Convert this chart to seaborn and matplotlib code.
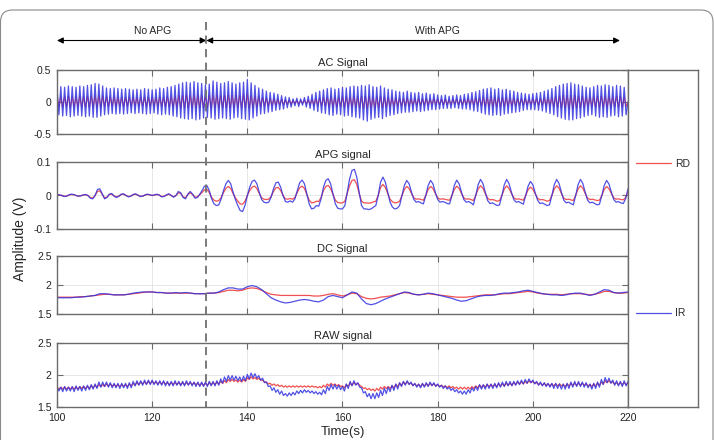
import numpy as np
import matplotlib.pyplot as plt
import matplotlib.transforms as mtransforms
from matplotlib.lines import Line2D
from matplotlib.patches import FancyArrowPatch, FancyBboxPatch
import seaborn as sns

# values
# AC and RAW: one value every half beat (0.4 s), alternating peak / trough
ac_ir = [
    0.22, -0.20, 0.24, -0.22, 0.23, -0.21, 0.25, -0.23, 0.24, -0.22, 0.23, -0.21, 0.25, -0.22, 0.24, -0.23, 0.26, -0.22, 0.27, -0.24,
    0.29, -0.24, 0.28, -0.22, 0.25, -0.20, 0.22, -0.19, 0.21, -0.18, 0.22, -0.19, 0.21, -0.18, 0.20, -0.19, 0.21, -0.18, 0.20, -0.17,
    0.19, -0.18, 0.20, -0.17, 0.19, -0.18, 0.21, -0.19, 0.20, -0.18, 0.19, -0.17, 0.20, -0.19, 0.22, -0.20, 0.21, -0.19, 0.23, -0.20,
    0.24, -0.22, 0.26, -0.23, 0.28, -0.25, 0.30, -0.26, 0.31, -0.27, 0.30, -0.26, 0.32, -0.28, 0.30, -0.27, 0.29, -0.25, 0.27, -0.24,
    0.28, -0.25, 0.33, -0.27, 0.31, -0.26, 0.29, -0.25, 0.30, -0.26, 0.32, -0.27, 0.30, -0.25, 0.28, -0.24, 0.30, -0.26, 0.31, -0.27,
    0.35, -0.28, 0.30, -0.25, 0.26, -0.22, 0.22, -0.19, 0.20, -0.18, 0.17, -0.16, 0.15, -0.15, 0.14, -0.13, 0.12, -0.12, 0.10, -0.11,
    0.08, -0.09, 0.07, -0.08, 0.05, -0.06, 0.06, -0.07, 0.05, -0.05, 0.07, -0.08, 0.09, -0.10, 0.12, -0.13, 0.15, -0.15, 0.17, -0.17,
    0.19, -0.18, 0.21, -0.20, 0.22, -0.21, 0.20, -0.19, 0.21, -0.20, 0.23, -0.22, 0.22, -0.21, 0.24, -0.23, 0.25, -0.24, 0.24, -0.25,
    0.26, -0.28, 0.25, -0.30, 0.27, -0.27, 0.24, -0.25, 0.23, -0.24, 0.25, -0.26, 0.22, -0.23, 0.20, -0.21, 0.19, -0.20, 0.17, -0.18,
    0.16, -0.17, 0.15, -0.16, 0.17, -0.16, 0.15, -0.15, 0.14, -0.14, 0.15, -0.15, 0.13, -0.14, 0.14, -0.13, 0.12, -0.12, 0.13, -0.12,
    0.11, -0.11, 0.10, -0.10, 0.11, -0.10, 0.09, -0.10, 0.10, -0.09, 0.11, -0.10, 0.10, -0.11, 0.12, -0.11, 0.13, -0.12, 0.15, -0.14,
    0.16, -0.15, 0.18, -0.17, 0.20, -0.19, 0.21, -0.20, 0.22, -0.21, 0.20, -0.20, 0.21, -0.21, 0.19, -0.19, 0.20, -0.18, 0.18, -0.17,
    0.17, -0.16, 0.15, -0.15, 0.14, -0.13, 0.13, -0.12, 0.12, -0.12, 0.13, -0.12, 0.14, -0.13, 0.15, -0.14, 0.17, -0.16, 0.19, -0.18,
    0.21, -0.20, 0.24, -0.23, 0.26, -0.25, 0.28, -0.27, 0.29, -0.28, 0.30, -0.28, 0.28, -0.26, 0.27, -0.25, 0.25, -0.23, 0.23, -0.21,
    0.22, -0.20, 0.24, -0.22, 0.26, -0.24, 0.25, -0.23, 0.27, -0.24, 0.26, -0.22, 0.24, -0.21, 0.26, -0.23, 0.25, -0.22, 0.23, -0.20,
    0.0,
]
ac_rd = [
    0.08, -0.07, 0.08, -0.08, 0.08, -0.07, 0.09, -0.08, 0.08, -0.08, 0.08, -0.07, 0.09, -0.08, 0.08, -0.08, 0.09, -0.08, 0.09, -0.08,
    0.10, -0.08, 0.10, -0.08, 0.09, -0.07, 0.08, -0.07, 0.07, -0.06, 0.08, -0.07, 0.07, -0.06, 0.07, -0.07, 0.07, -0.06, 0.07, -0.06,
    0.07, -0.06, 0.07, -0.06, 0.07, -0.06, 0.07, -0.07, 0.07, -0.06, 0.07, -0.06, 0.07, -0.07, 0.08, -0.07, 0.07, -0.07, 0.08, -0.07,
    0.08, -0.08, 0.09, -0.08, 0.10, -0.09, 0.10, -0.09, 0.11, -0.09, 0.10, -0.09, 0.11, -0.10, 0.10, -0.09, 0.10, -0.09, 0.09, -0.08,
    0.10, -0.09, 0.11, -0.09, 0.11, -0.09, 0.10, -0.09, 0.10, -0.09, 0.11, -0.09, 0.10, -0.09, 0.10, -0.08, 0.10, -0.09, 0.11, -0.09,
    0.12, -0.10, 0.10, -0.09, 0.09, -0.08, 0.08, -0.07, 0.07, -0.06, 0.06, -0.06, 0.05, -0.05, 0.05, -0.05, 0.04, -0.04, 0.04, -0.04,
    0.03, -0.03, 0.03, -0.03, 0.02, -0.02, 0.02, -0.03, 0.02, -0.02, 0.03, -0.03, 0.03, -0.04, 0.04, -0.05, 0.05, -0.05, 0.06, -0.06,
    0.07, -0.06, 0.07, -0.07, 0.08, -0.07, 0.07, -0.07, 0.07, -0.07, 0.08, -0.08, 0.08, -0.07, 0.08, -0.08, 0.09, -0.08, 0.08, -0.09,
    0.09, -0.10, 0.09, -0.10, 0.09, -0.09, 0.08, -0.09, 0.08, -0.08, 0.09, -0.09, 0.08, -0.08, 0.07, -0.07, 0.07, -0.07, 0.06, -0.06,
    0.06, -0.06, 0.05, -0.06, 0.06, -0.06, 0.05, -0.05, 0.05, -0.05, 0.05, -0.05, 0.05, -0.05, 0.05, -0.05, 0.04, -0.04, 0.05, -0.04,
    0.04, -0.04, 0.04, -0.04, 0.04, -0.04, 0.03, -0.04, 0.04, -0.03, 0.04, -0.04, 0.04, -0.04, 0.04, -0.04, 0.05, -0.04, 0.05, -0.05,
    0.06, -0.05, 0.06, -0.06, 0.07, -0.07, 0.07, -0.07, 0.08, -0.07, 0.07, -0.07, 0.07, -0.07, 0.07, -0.07, 0.07, -0.06, 0.06, -0.06,
    0.06, -0.06, 0.05, -0.05, 0.05, -0.05, 0.05, -0.04, 0.04, -0.04, 0.05, -0.04, 0.05, -0.05, 0.05, -0.05, 0.06, -0.06, 0.07, -0.06,
    0.07, -0.07, 0.08, -0.08, 0.09, -0.09, 0.10, -0.09, 0.10, -0.10, 0.10, -0.10, 0.10, -0.09, 0.09, -0.09, 0.09, -0.08, 0.08, -0.07,
    0.08, -0.07, 0.08, -0.08, 0.09, -0.08, 0.09, -0.08, 0.09, -0.08, 0.09, -0.08, 0.08, -0.07, 0.09, -0.08, 0.09, -0.08, 0.08, -0.07,
    0.0,
]
raw_ir = [
    1.82, 1.75, 1.81, 1.74, 1.82, 1.75, 1.81, 1.75, 1.82, 1.74, 1.83, 1.76, 1.82, 1.75, 1.83, 1.76, 1.84, 1.77, 1.85, 1.78,
    1.86, 1.79, 1.89, 1.81, 1.89, 1.82, 1.89, 1.81, 1.88, 1.80, 1.87, 1.80, 1.87, 1.79, 1.87, 1.80, 1.87, 1.79, 1.88, 1.80,
    1.90, 1.83, 1.91, 1.84, 1.91, 1.84, 1.92, 1.85, 1.92, 1.85, 1.92, 1.85, 1.91, 1.84, 1.91, 1.84, 1.91, 1.83, 1.90, 1.83,
    1.90, 1.83, 1.91, 1.84, 1.90, 1.83, 1.90, 1.83, 1.91, 1.84, 1.90, 1.83, 1.89, 1.82, 1.89, 1.82, 1.89, 1.82, 1.89, 1.82,
    1.90, 1.83, 1.90, 1.83, 1.91, 1.84, 1.94, 1.87, 1.97, 1.90, 1.99, 1.92, 1.99, 1.92, 1.98, 1.91, 1.97, 1.90, 1.98, 1.91,
    2.01, 1.94, 2.03, 1.96, 2.02, 1.95, 1.99, 1.92, 1.95, 1.88, 1.89, 1.82, 1.83, 1.76, 1.80, 1.73, 1.77, 1.70, 1.75, 1.68,
    1.71, 1.67, 1.72, 1.68, 1.73, 1.69, 1.75, 1.71, 1.76, 1.72, 1.77, 1.73, 1.76, 1.72, 1.75, 1.71, 1.74, 1.70, 1.73, 1.69,
    1.77, 1.71, 1.82, 1.76, 1.85, 1.78, 1.85, 1.78, 1.84, 1.77, 1.82, 1.75, 1.86, 1.79, 1.90, 1.83, 1.91, 1.84, 1.88, 1.81,
    1.80, 1.72, 1.74, 1.66, 1.71, 1.63, 1.71, 1.63, 1.72, 1.65, 1.76, 1.68, 1.79, 1.71, 1.81, 1.74, 1.84, 1.76, 1.86, 1.78,
    1.88, 1.82, 1.90, 1.84, 1.91, 1.85, 1.89, 1.83, 1.87, 1.81, 1.86, 1.80, 1.87, 1.81, 1.88, 1.82, 1.89, 1.83, 1.88, 1.82,
    1.86, 1.81, 1.84, 1.79, 1.83, 1.78, 1.81, 1.76, 1.79, 1.74, 1.77, 1.72, 1.75, 1.70, 1.75, 1.70, 1.77, 1.72, 1.80, 1.75,
    1.82, 1.76, 1.85, 1.78, 1.85, 1.78, 1.86, 1.79, 1.86, 1.79, 1.87, 1.80, 1.88, 1.81, 1.89, 1.82, 1.90, 1.83, 1.90, 1.83,
    1.90, 1.84, 1.91, 1.85, 1.92, 1.86, 1.93, 1.87, 1.94, 1.88, 1.92, 1.86, 1.90, 1.84, 1.89, 1.83, 1.88, 1.82, 1.87, 1.81,
    1.87, 1.79, 1.87, 1.79, 1.86, 1.78, 1.86, 1.78, 1.87, 1.79, 1.89, 1.81, 1.90, 1.82, 1.90, 1.82, 1.89, 1.81, 1.88, 1.80,
    1.86, 1.78, 1.87, 1.79, 1.89, 1.81, 1.93, 1.85, 1.96, 1.88, 1.95, 1.87, 1.92, 1.84, 1.91, 1.83, 1.90, 1.82, 1.91, 1.83,
    1.90,
]
raw_rd = [
    1.81, 1.78, 1.81, 1.78, 1.81, 1.78, 1.81, 1.78, 1.81, 1.78, 1.81, 1.78, 1.82, 1.79, 1.82, 1.79, 1.82, 1.79, 1.83, 1.80,
    1.84, 1.81, 1.85, 1.82, 1.85, 1.82, 1.86, 1.83, 1.86, 1.83, 1.85, 1.82, 1.85, 1.82, 1.85, 1.82, 1.85, 1.82, 1.86, 1.83,
    1.87, 1.84, 1.88, 1.85, 1.89, 1.86, 1.89, 1.86, 1.90, 1.87, 1.90, 1.87, 1.89, 1.86, 1.89, 1.86, 1.89, 1.86, 1.88, 1.85,
    1.88, 1.85, 1.88, 1.85, 1.88, 1.85, 1.88, 1.85, 1.88, 1.85, 1.88, 1.85, 1.88, 1.85, 1.87, 1.84, 1.87, 1.84, 1.87, 1.84,
    1.88, 1.85, 1.88, 1.85, 1.89, 1.86, 1.90, 1.87, 1.91, 1.88, 1.93, 1.90, 1.93, 1.90, 1.92, 1.89, 1.92, 1.89, 1.93, 1.90,
    1.96, 1.93, 1.97, 1.94, 1.96, 1.93, 1.95, 1.92, 1.92, 1.89, 1.89, 1.86, 1.87, 1.84, 1.86, 1.83, 1.85, 1.82, 1.84, 1.81,
    1.83, 1.81, 1.83, 1.81, 1.83, 1.81, 1.83, 1.81, 1.83, 1.81, 1.83, 1.81, 1.83, 1.81, 1.83, 1.81, 1.82, 1.80, 1.82, 1.80,
    1.84, 1.81, 1.86, 1.83, 1.87, 1.84, 1.86, 1.83, 1.85, 1.82, 1.83, 1.80, 1.85, 1.82, 1.87, 1.84, 1.88, 1.85, 1.87, 1.84,
    1.82, 1.79, 1.80, 1.77, 1.79, 1.76, 1.78, 1.75, 1.79, 1.76, 1.81, 1.78, 1.82, 1.79, 1.82, 1.79, 1.83, 1.80, 1.85, 1.82,
    1.87, 1.84, 1.89, 1.86, 1.89, 1.86, 1.87, 1.84, 1.86, 1.83, 1.85, 1.82, 1.86, 1.83, 1.86, 1.83, 1.87, 1.84, 1.86, 1.83,
    1.85, 1.82, 1.84, 1.81, 1.83, 1.80, 1.83, 1.80, 1.82, 1.79, 1.81, 1.78, 1.81, 1.78, 1.81, 1.78, 1.81, 1.78, 1.82, 1.79,
    1.83, 1.80, 1.84, 1.81, 1.84, 1.81, 1.85, 1.82, 1.85, 1.82, 1.85, 1.82, 1.86, 1.83, 1.86, 1.83, 1.87, 1.84, 1.87, 1.84,
    1.88, 1.85, 1.89, 1.86, 1.89, 1.86, 1.90, 1.87, 1.91, 1.88, 1.90, 1.87, 1.88, 1.85, 1.87, 1.84, 1.87, 1.84, 1.86, 1.83,
    1.86, 1.83, 1.86, 1.83, 1.86, 1.83, 1.85, 1.82, 1.86, 1.83, 1.87, 1.84, 1.87, 1.84, 1.87, 1.84, 1.87, 1.84, 1.86, 1.83,
    1.85, 1.82, 1.86, 1.83, 1.87, 1.84, 1.89, 1.86, 1.91, 1.88, 1.91, 1.88, 1.89, 1.86, 1.88, 1.85, 1.88, 1.85, 1.88, 1.85,
    1.87,
]
# APG: one value every 0.5 s, one row per 5 s
apg_ir = [
    0.003, 0.002, 0.0, -0.003, -0.002, 0.002, 0.004, 0.003, 0.0, -0.002,
    -0.001, 0.002, 0.003, 0.0, -0.008, -0.01, 0.0, 0.018, 0.02, 0.005,
    -0.01, -0.006, 0.004, 0.006, -0.002, -0.006, -0.002, 0.004, 0.005, 0.0,
    -0.004, -0.002, 0.003, 0.005, 0.001, -0.003, -0.002, 0.002, 0.004, 0.002,
    0.0, 0.002, 0.004, 0.001, -0.004, -0.003, 0.002, 0.005, 0.0, -0.005,
    0.0, 0.012, 0.008, -0.006, -0.01, 0.004, 0.012, 0.004, -0.008, -0.006,
    0.004, 0.015, 0.028, 0.03, 0.015, -0.01, -0.025, -0.03, -0.028, -0.01,
    0.015, 0.035, 0.045, 0.035, 0.01, -0.012, -0.03, -0.045, -0.048, -0.03,
    0.0, 0.025, 0.042, 0.046, 0.035, 0.01, -0.012, -0.02, -0.022, -0.02,
    -0.005, 0.02, 0.038, 0.04, 0.025, 0.0, -0.018, -0.02, -0.016, -0.02,
    -0.01, 0.015, 0.038, 0.046, 0.035, 0.005, -0.025, -0.04, -0.038, -0.03,
    -0.032, -0.01, 0.025, 0.045, 0.05, 0.035, 0.005, -0.025, -0.038, -0.04,
    -0.04, -0.03, 0.01, 0.05, 0.075, 0.078, 0.055, 0.01, -0.03, -0.04,
    -0.04, -0.042, -0.04, -0.035, -0.03, 0.0, 0.04, 0.055, 0.04, 0.01,
    -0.02, -0.035, -0.04, -0.038, -0.03, 0.0, 0.03, 0.045, 0.035, 0.01,
    -0.012, -0.02, -0.018, -0.022, -0.025, 0.0, 0.03, 0.045, 0.035, 0.01,
    -0.012, -0.02, -0.018, -0.02, -0.024, -0.025, 0.0, 0.03, 0.046, 0.035,
    0.01, -0.012, -0.02, -0.018, -0.022, -0.028, 0.0, 0.032, 0.048, 0.036,
    0.01, -0.015, -0.024, -0.022, -0.026, -0.03, -0.028, 0.0, 0.032, 0.048,
    0.035, 0.01, -0.012, -0.02, -0.018, -0.022, -0.026, 0.0, 0.028, 0.042,
    0.032, 0.008, -0.014, -0.024, -0.022, -0.026, -0.03, -0.028, 0.0, 0.032,
    0.048, 0.036, 0.01, -0.014, -0.022, -0.02, -0.024, -0.028, 0.0, 0.032,
    0.048, 0.036, 0.01, -0.014, -0.022, -0.02, -0.024, -0.028, -0.026, 0.0,
    0.03, 0.045, 0.034, 0.01, -0.012, -0.02, -0.018, -0.022, -0.024, -0.01,
    0.02,
]
apg_rd = [
    0.002, 0.001, 0.0, -0.002, -0.002, 0.001, 0.003, 0.002, 0.0, -0.002,
    -0.001, 0.001, 0.002, 0.0, -0.006, -0.008, 0.0, 0.012, 0.014, 0.004,
    -0.007, -0.005, 0.003, 0.004, -0.001, -0.004, -0.002, 0.003, 0.004, 0.0,
    -0.003, -0.002, 0.002, 0.004, 0.001, -0.002, -0.002, 0.001, 0.003, 0.002,
    0.0, 0.001, 0.003, 0.001, -0.003, -0.002, 0.001, 0.004, 0.0, -0.004,
    0.0, 0.008, 0.006, -0.004, -0.007, 0.003, 0.008, 0.003, -0.005, -0.004,
    0.002, 0.009, 0.017, 0.018, 0.009, -0.006, -0.014, -0.017, -0.015, -0.006,
    0.009, 0.021, 0.027, 0.021, 0.006, -0.007, -0.017, -0.025, -0.026, -0.017,
    0.0, 0.015, 0.025, 0.028, 0.021, 0.006, -0.007, -0.011, -0.012, -0.011,
    -0.003, 0.012, 0.023, 0.024, 0.015, 0.0, -0.01, -0.011, -0.009, -0.011,
    -0.006, 0.009, 0.023, 0.028, 0.021, 0.003, -0.014, -0.022, -0.021, -0.017,
    -0.018, -0.006, 0.015, 0.027, 0.03, 0.021, 0.003, -0.014, -0.021, -0.022,
    -0.022, -0.017, 0.006, 0.03, 0.045, 0.047, 0.033, 0.006, -0.017, -0.022,
    -0.022, -0.023, -0.022, -0.019, -0.017, 0.0, 0.024, 0.033, 0.024, 0.006,
    -0.011, -0.019, -0.022, -0.021, -0.017, 0.0, 0.018, 0.027, 0.021, 0.006,
    -0.007, -0.011, -0.01, -0.012, -0.014, 0.0, 0.018, 0.027, 0.021, 0.006,
    -0.007, -0.011, -0.01, -0.011, -0.013, -0.014, 0.0, 0.018, 0.028, 0.021,
    0.006, -0.007, -0.011, -0.01, -0.012, -0.015, 0.0, 0.019, 0.029, 0.022,
    0.006, -0.008, -0.013, -0.012, -0.014, -0.017, -0.015, 0.0, 0.019, 0.029,
    0.021, 0.006, -0.007, -0.011, -0.01, -0.012, -0.014, 0.0, 0.017, 0.025,
    0.019, 0.005, -0.008, -0.013, -0.012, -0.014, -0.017, -0.015, 0.0, 0.019,
    0.029, 0.022, 0.006, -0.008, -0.012, -0.011, -0.013, -0.015, 0.0, 0.019,
    0.029, 0.022, 0.006, -0.008, -0.012, -0.011, -0.013, -0.015, -0.014, 0.0,
    0.018, 0.027, 0.02, 0.006, -0.007, -0.011, -0.01, -0.012, -0.013, -0.006,
    0.012,
]
# DC: one value per second
dc_ir = [
    1.78, 1.78, 1.78, 1.78, 1.79, 1.79, 1.80, 1.81, 1.82, 1.85,
    1.85, 1.84, 1.83, 1.83, 1.83, 1.84, 1.86, 1.87, 1.88, 1.88,
    1.88, 1.87, 1.87, 1.86, 1.86, 1.87, 1.86, 1.87, 1.86, 1.85,
    1.85, 1.85, 1.86, 1.86, 1.88, 1.92, 1.95, 1.95, 1.93, 1.93,
    1.97, 1.99, 1.97, 1.92, 1.85, 1.78, 1.74, 1.71, 1.69, 1.70,
    1.72, 1.74, 1.75, 1.74, 1.72, 1.71, 1.74, 1.80, 1.82, 1.80,
    1.78, 1.83, 1.88, 1.86, 1.76, 1.68, 1.66, 1.68, 1.72, 1.76,
    1.79, 1.82, 1.85, 1.88, 1.87, 1.84, 1.83, 1.84, 1.86, 1.85,
    1.83, 1.81, 1.79, 1.77, 1.74, 1.72, 1.73, 1.76, 1.79, 1.81,
    1.82, 1.82, 1.83, 1.85, 1.86, 1.86, 1.87, 1.88, 1.90, 1.91,
    1.89, 1.87, 1.85, 1.84, 1.83, 1.83, 1.82, 1.83, 1.85, 1.86,
    1.86, 1.84, 1.82, 1.84, 1.88, 1.92, 1.91, 1.87, 1.86, 1.87,
    1.88,
]
dc_rd = [
    1.79, 1.79, 1.79, 1.79, 1.79, 1.80, 1.80, 1.81, 1.82, 1.83,
    1.84, 1.84, 1.83, 1.83, 1.83, 1.84, 1.85, 1.86, 1.87, 1.88,
    1.88, 1.87, 1.87, 1.86, 1.86, 1.86, 1.86, 1.86, 1.86, 1.85,
    1.85, 1.85, 1.86, 1.86, 1.87, 1.89, 1.91, 1.91, 1.90, 1.91,
    1.94, 1.95, 1.94, 1.91, 1.87, 1.84, 1.83, 1.82, 1.82, 1.82,
    1.82, 1.82, 1.82, 1.82, 1.81, 1.81, 1.82, 1.84, 1.85, 1.83,
    1.81, 1.83, 1.86, 1.85, 1.80, 1.77, 1.76, 1.77, 1.79, 1.80,
    1.81, 1.83, 1.85, 1.87, 1.86, 1.84, 1.83, 1.84, 1.85, 1.84,
    1.83, 1.82, 1.81, 1.80, 1.79, 1.79, 1.79, 1.80, 1.81, 1.82,
    1.83, 1.83, 1.83, 1.84, 1.85, 1.85, 1.86, 1.87, 1.88, 1.89,
    1.88, 1.86, 1.85, 1.84, 1.84, 1.84, 1.83, 1.84, 1.85, 1.85,
    1.85, 1.84, 1.83, 1.84, 1.86, 1.89, 1.89, 1.87, 1.86, 1.86,
    1.87,
]

t_start = 100
beat_t = t_start + 0.4 * np.arange(len(ac_ir))
apg_t = t_start + 0.5 * np.arange(len(apg_ir))
dc_t = t_start + np.arange(len(dc_ir))

panel_titles = ["AC Signal", "APG signal", "DC Signal", "RAW signal"]
y_limits = [(-0.5, 0.5), (-0.1, 0.1), (1.5, 2.5), (1.5, 2.5)]
y_ticks = [[-0.5, 0, 0.5], [-0.1, 0, 0.1], [1.5, 2, 2.5], [1.5, 2, 2.5]]
y_ticklabels = [["-0.5", "0", "0.5"], ["-0.1", "0", "0.1"],
                ["1.5", "2", "2.5"], ["1.5", "2", "2.5"]]
x_ticks = [100, 120, 140, 160, 180, 200, 220]
series_labels = ["RD", "IR"]

apg_start = 131.4            # switch from "No APG" to "With APG"
phase_arrows = [(100, 131.4), (131.4, 218.3)]
phase_labels = ["No APG", "With APG"]
phase_label_t = [120, 180]

# ---- figure ----
sns.set_style("ticks")
plt.rcParams["font.family"] = ["Liberation Sans", "DejaVu Sans"]

W, H = 714, 440
fig = plt.figure(figsize=(W / 100, H / 100), dpi=100)

RED = "#ef3d3d"
BLUE = "#3232e0"
EDGE = "#6b6b6b"


def add_px_axes(x0, y0, x1, y1):
    # pixel box measured from the top-left corner of the picture
    return fig.add_axes([x0 / W, 1 - y1 / H, (x1 - x0) / W, (y1 - y0) / H])


panel_rows = [(70, 134), (162, 229), (256, 314), (343, 407)]
panel_data = [(ac_rd, ac_ir, beat_t), (apg_rd, apg_ir, apg_t),
              (dc_rd, dc_ir, dc_t), (raw_rd, raw_ir, beat_t)]

axes = []
for i, (rd, ir, t) in enumerate(panel_data):
    top, bottom = panel_rows[i]
    ax = add_px_axes(57, top, 628, bottom)
    sns.lineplot(x=t, y=rd, ax=ax, color=RED, linewidth=0.9, alpha=0.9)
    sns.lineplot(x=t, y=ir, ax=ax, color=BLUE, linewidth=0.9, alpha=0.85)
    ax.set_xlim(100, 220)
    ax.set_ylim(*y_limits[i])
    ax.set_xticks(x_ticks)
    ax.set_yticks(y_ticks[i])
    ax.set_yticklabels(y_ticklabels[i])
    ax.set_xlabel("")
    ax.set_ylabel("")
    ax.tick_params(direction="in", top=True, right=True, length=4, width=0.8,
                   color=EDGE, labelsize=7.5, labelcolor="#222222", pad=4)
    if i < 3:
        ax.tick_params(labelbottom=False)
    ax.grid(True, color="#e3e3e3", linewidth=0.6)
    ax.set_axisbelow(True)
    for s in ax.spines.values():
        s.set_color(EDGE)
        s.set_linewidth(1.0)
    ax.set_title(panel_titles[i], fontsize=8, pad=3)
    axes.append(ax)

# tall legend box on the right
lax = add_px_axes(628, 70, 698, 407)
lax.set_xticks([])
lax.set_yticks([])
for s in lax.spines.values():
    s.set_color(EDGE)
    s.set_linewidth(1.0)
lax.legend(handles=[axes[1].lines[0], axes[1].lines[1]], labels=series_labels,
           loc="center", frameon=False, fontsize=7.5, labelspacing=13.4,
           handlelength=3.3, handletextpad=0.4)

# stage arrows, labels and the dashed separator
trans = mtransforms.blended_transform_factory(axes[0].transData, fig.transFigure)
y_arrow = 1 - 40.5 / H
for (a, b), lab, lt in zip(phase_arrows, phase_labels, phase_label_t):
    fig.add_artist(FancyArrowPatch((a, y_arrow), (b, y_arrow), transform=trans,
                                   arrowstyle="<|-|>", mutation_scale=9, color="k",
                                   lw=0.8, shrinkA=0, shrinkB=0))
    fig.text(lt, 1 - 34.5 / H, lab, transform=trans, ha="center", va="baseline",
             fontsize=7.5)

fig.add_artist(Line2D([apg_start, apg_start], [1 - 22 / H, 1 - 407 / H], transform=trans,
                      color="#707070", lw=1.3, linestyle=(0, (4.5, 3)), zorder=5))

fig.text(20 / W, 1 - 238.5 / H, "Amplitude (V)", rotation=90, ha="center",
         va="center", fontsize=10)
fig.text(342.5 / W, 1 - 426 / H, "Time(s)", ha="center", va="top", fontsize=9.5)

# rounded frame around the whole figure
fig.add_artist(FancyBboxPatch((0.005, -0.3), 7.125, 4.6, transform=fig.dpi_scale_trans,
                              boxstyle="round,pad=0,rounding_size=0.12", fill=False,
                              ec="#8a8a8a", lw=0.8))

fig.savefig("out.png", dpi=100)
